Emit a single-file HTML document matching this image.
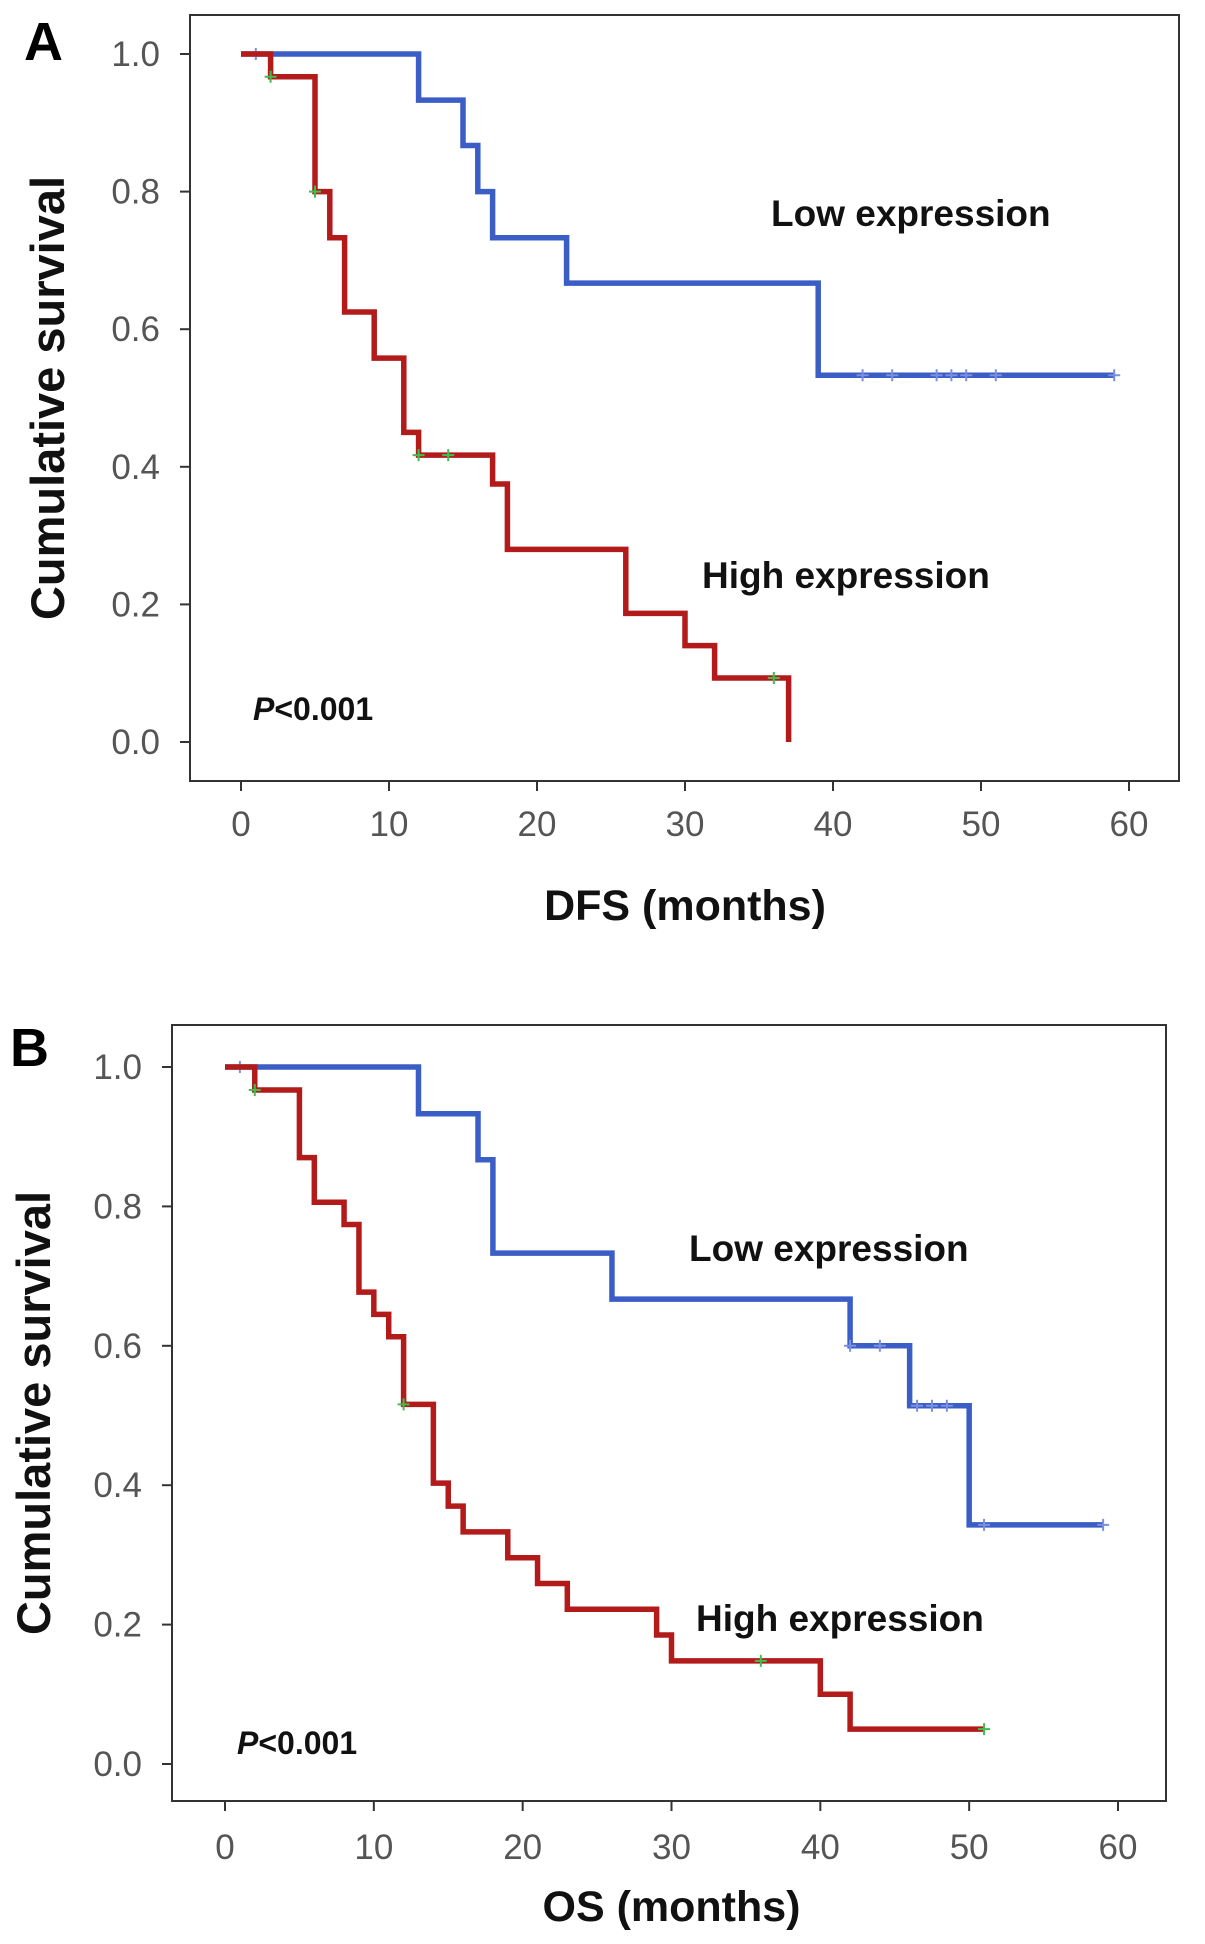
<!DOCTYPE html>
<html><head><meta charset="utf-8"><style>
body{margin:0;background:#fff;width:1205px;height:1944px;overflow:hidden}
svg{display:block}
.tick{font-family:"Liberation Sans",sans-serif;font-size:35px;fill:#555}
.ttl{font-family:"Liberation Sans",sans-serif;font-size:43px;font-weight:bold;fill:#111}
.yt{font-size:47px}
.lab{font-family:"Liberation Sans",sans-serif;font-size:37px;font-weight:bold;fill:#111}
.pv{font-family:"Liberation Sans",sans-serif;font-size:32px;font-weight:bold;fill:#111}
.pl{font-family:"Liberation Sans",sans-serif;font-size:54px;font-weight:bold;fill:#000}
</style></head><body>
<svg id="c" width="1205" height="1944"></svg>
<script>
// Panel A (DFS)
const dfsLowT=[0,12,15,16,17,22,39];
const dfsLowS=[1,0.933,0.867,0.8,0.733,0.667,0.533];
const dfsLowEnd=59;
const dfsLowCens=[1,42,44,47,48,49,51,59];
const dfsHighT=[0,2,5,6,7,9,11,12,17,18,26,30,32,37];
const dfsHighS=[1,0.967,0.8,0.733,0.625,0.558,0.45,0.417,0.375,0.28,0.187,0.14,0.093,0];
const dfsHighEnd=37;
const dfsHighCens=[2,5,12,14,36];
// Panel B (OS)
const osLowT=[0,13,17,18,26,42,46,50];
const osLowS=[1,0.933,0.867,0.733,0.667,0.6,0.514,0.343];
const osLowEnd=59;
const osLowCens=[1,42,44,46.5,47.5,48.5,51,59];
const osHighT=[0,2,5,6,8,9,10,11,12,14,15,16,19,21,23,29,30,40,42];
const osHighS=[1,0.967,0.87,0.806,0.774,0.677,0.645,0.613,0.516,0.403,0.37,0.333,0.296,0.259,0.222,0.185,0.148,0.1,0.05];
const osHighEnd=51;
const osHighCens=[2,12,36,51];
const xTicks=[0,10,20,30,40,50,60];
const yTicks=[0,0.2,0.4,0.6,0.8,1.0];

const NS="http://www.w3.org/2000/svg";
const svg=document.getElementById('c');
function mk(tag,at,parent){const e=document.createElementNS(NS,tag);for(const k in at)e.setAttribute(k,at[k]);(parent||svg).appendChild(e);return e;}

function panel(P){
  const g=mk('g',{});
  
  
  const X=v=>P.x0+(P.x60-P.x0)*v/60, Y=v=>P.y0+(P.y1-P.y0)*v;
  const fr=mk('rect',{x:P.fl,y:P.ft,width:P.fr-P.fl,height:P.fb-P.ft,fill:'none',stroke:'#333','stroke-width':2},g);
  
  
  yTicks.forEach(v=>{
    const l=mk('line',{x1:P.fl-10,x2:P.fl,y1:Y(v),y2:Y(v),stroke:'#333','stroke-width':2},g);
    
    
    const t=mk('text',{x:P.fl-30,y:Y(v)+12,'text-anchor':'end',class:'tick'},g);t.textContent=v.toFixed(1);
    
    
  });
  xTicks.forEach(v=>{
    const l=mk('line',{x1:X(v),x2:X(v),y1:P.fb,y2:P.fb+10,stroke:'#333','stroke-width':2},g);
    
    
    const t=mk('text',{x:X(v),y:P.tly,'text-anchor':'middle',class:'tick'},g);t.textContent=v;
    
    
  });
  function curve(T,S,end,cens,col,mcol,nm){
    let d='M'+X(T[0])+','+Y(S[0]);
    for(let i=1;i<T.length;i++){d+=' H'+X(T[i])+' V'+Y(S[i]);}
    d+=' H'+X(end);
    const p=mk('path',{d:d,fill:'none',stroke:col,'stroke-width':5.5,'stroke-linejoin':'miter'},g);
    
    
    cens.forEach(c=>{
      let s=S[0];for(let i=0;i<T.length;i++)if(T[i]<=c)s=S[i];
      const m=mk('path',{d:`M${X(c)-6},${Y(s)} h12 M${X(c)},${Y(s)-6} v12`,stroke:mcol,'stroke-width':2},g);
      
      
    });
  }
  curve(P.lowT,P.lowS,P.lowEnd,P.lowC,'#3b5ec6','#7b8fe0','low-expression-curve');
  curve(P.highT,P.highS,P.highEnd,P.highC,'#b31b1b','#3fbf4f','high-expression-curve');
  const texts=[[P.letter,P.lx,P.ly,'start','pl','panel-letter'],
    ['Cumulative survival',0,0,'middle','ttl yt','y-axis-title'],
    [P.xt,(P.x0+P.x60)/2,P.xty,'middle','ttl','x-axis-title'],
    ['Low expression',P.lowLx,P.lowLy,'start','lab','low-expression-label'],
    ['High expression',P.hiLx,P.hiLy,'start','lab','high-expression-label']];
  texts.forEach(a=>{
    const t=mk('text',{x:a[1],y:a[2],'text-anchor':a[3],class:a[4]},g);t.textContent=a[0];
    if(a[5]==='y-axis-title')t.setAttribute('transform',`translate(${P.ytx},${(P.ft+P.fb)/2}) rotate(-90)`);
    
    
  });
  const pv=mk('text',{x:P.px,y:P.py,class:'pv'},g);
  pv.innerHTML='<tspan font-style="italic">P</tspan>&lt;0.001';
  
  
}
panel({name:'panel-a-dfs',fl:190,fr:1179,ft:15,fb:781,x0:241,x60:1129,y0:742,y1:54,tly:836,xty:920,xt:'DFS (months)',
  letter:'A',lx:24,ly:60,ytx:64,lowLx:771,lowLy:226,hiLx:702,hiLy:588,px:253,py:720,
  lowT:dfsLowT,lowS:dfsLowS,lowEnd:dfsLowEnd,lowC:dfsLowCens,highT:dfsHighT,highS:dfsHighS,highEnd:dfsHighEnd,highC:dfsHighCens});
panel({name:'panel-b-os',fl:172,fr:1166,ft:1025,fb:1801,x0:225,x60:1118,y0:1764,y1:1067,tly:1859,xty:1921,xt:'OS (months)',
  letter:'B',lx:10,ly:1066,ytx:50,lowLx:689,lowLy:1261,hiLx:696,hiLy:1631,px:237,py:1754,
  lowT:osLowT,lowS:osLowS,lowEnd:osLowEnd,lowC:osLowCens,highT:osHighT,highS:osHighS,highEnd:osHighEnd,highC:osHighCens});
</script>
</body></html>
